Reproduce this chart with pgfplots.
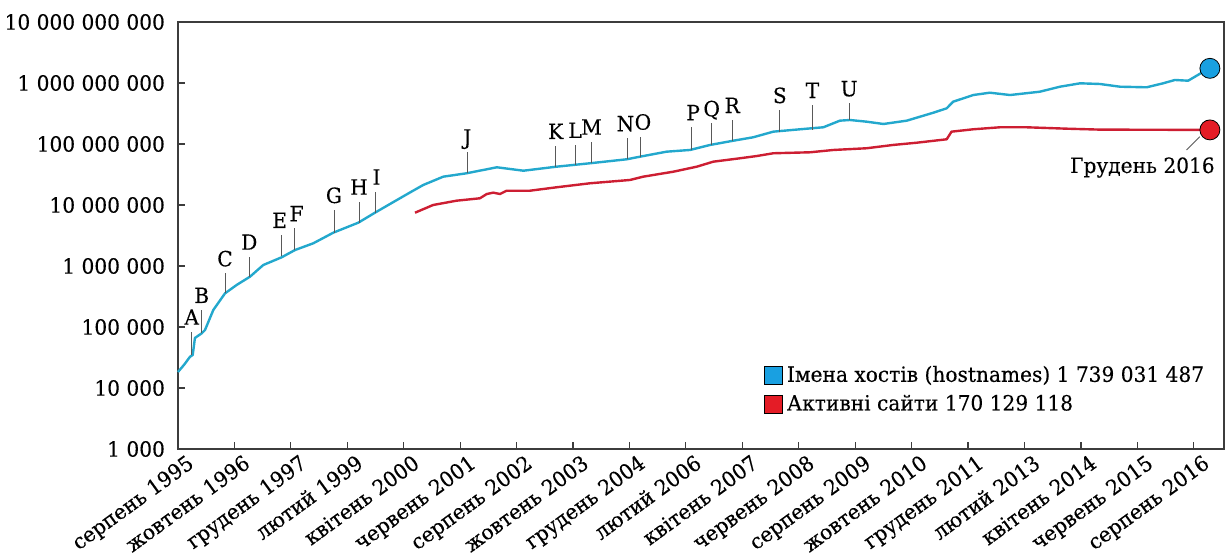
\documentclass[border=0pt]{standalone}
\usepackage{fontspec}
\setmainfont{DejaVu Serif}[FakeStretch=0.96, FakeBold=0.25]
\usepackage{pgfplots}
\pgfplotsset{compat=1.18}
\definecolor{hostline}{RGB}{35,168,205}
\definecolor{hostdot}{RGB}{25,160,225}
\definecolor{siteline}{RGB}{205,30,50}
\definecolor{sitedot}{RGB}{228,28,38}
\definecolor{axgray}{RGB}{60,60,60}
\newcommand{\chfont}{\fontsize{10.5}{12.5}\selectfont}
\begin{document}
\begin{tikzpicture}[x=1pt,y=1pt,
  annot/.style={draw=black!65, line width=0.4pt},
  let/.style={anchor=base, yshift=3.5pt, inner sep=0pt, text=black, font=\chfont}]
\begin{axis}[
  at={(0,0)}, anchor=south west,
  scale only axis, width=523pt, height=213.5pt,
  xmin=0, xmax=259.5, ymode=log, ymin=1e3, ymax=1e10,
  clip=false,
  axis line style={axgray, line width=0.8pt},
  tick style={axgray, line width=0.6pt},
  major tick length=3.5pt,
  tick align=inside,
  tick pos=left,
  xminorticks=false, yminorticks=false,
  ytick={1e3,1e4,1e5,1e6,1e7,1e8,1e9,1e10},
  yticklabels={{1 000},{10 000},{100 000},{1 000 000},{10 000 000},{100 000 000},{1 000 000 000},{10 000 000 000}},
  xtick={0,14,...,252},
  xticklabels={серпень 1995,жовтень 1996,грудень 1997,лютий 1999,квітень 2000,червень 2001,серпень 2002,жовтень 2003,грудень 2004,лютий 2006,квітень 2007,червень 2008,серпень 2009,жовтень 2010,грудень 2011,лютий 2013,квітень 2014,червень 2015,серпень 2016},
  tick label style={font=\chfont, text=black},
  yticklabel style={xshift=-3pt},
  xticklabel style={rotate=36, anchor=north east, inner sep=1pt, xshift=3pt, yshift=-3pt},
  legend style={draw=none, fill=none, at={(0.56,0.205)}, anchor=north west,
    font=\chfont, row sep=1pt, inner sep=0pt},
  legend cell align=left,
  legend image code/.code={\fill[#1] (0pt,-4.5pt) rectangle (9pt,4.5pt);},
]
\addplot[hostline, line width=1.2pt, line join=round, forget plot] coordinates {
(0,18300) (1.5,24000) (3.0,32600) (3.65,34800) (4.2,66100) (5.9,78900) (6.7,89300)
(8.76,190000) (11.66,356000) (14.56,489000) (17.86,668000) (21.16,1038000)
(25.73,1390000) (29.03,1828000) (33.56,2355000) (38.53,3516000) (44.73,5129000)
(48.87,7480000) (52.59,10380000) (57.55,16030000) (60.85,21290000) (65.8,29110000)
(71.6,33110000) (79.1,41500000) (85.7,36480000) (93.9,42460000) (102.2,48300000)
(111.3,56100000) (114.6,61900000) (121.2,74800000) (127.0,79800000) (132.0,96400000)
(137.8,113300000) (142.7,128800000) (147.7,159300000) (154.3,174200000) (160.1,187900000)
(164.2,241200000) (166.7,247300000) (170.8,232200000) (175.0,212800000) (180.8,241200000)
(187.4,325900000) (190.7,384600000) (192.3,493300000) (197.3,635000000) (201.4,693400000)
(206.4,635000000) (213.8,719500000) (218.8,869000000) (223.8,988000000) (228.7,963000000)
(233.7,869000000) (240.3,850000000) (244.4,988000000) (247.3,1120000000) (250.6,1090000000)
(254.4,1531000000) (256,1739031487)
};
\addplot[siteline, line width=1.2pt, line join=round, forget plot] coordinates {
(58.8,7480000) (63.3,10000000) (69.1,11760000) (74.9,12880000) (76.6,15140000)
(78.2,15920000) (79.9,15140000) (81.5,17140000) (87.3,17140000) (93.9,19500000)
(102.2,22690000) (112.1,25700000) (115.4,29110000) (122.9,35150000) (128.7,42460000)
(132.8,51290000) (139.4,58300000) (143.6,63500000) (147.7,70500000) (156.8,73100000)
(162.6,79800000) (170.8,85100000) (177.4,96400000) (183.3,105000000) (190.7,119400000)
(191.9,159300000) (197.3,174200000) (203.9,187900000) (210.5,187900000) (220.5,178200000)
(228.7,172000000) (256,170129118)
};
\addplot[only marks, mark=*, mark size=5pt, mark options={draw=none, fill=hostdot}, forget plot]
  coordinates {(256,1739031487)};
\addplot[only marks, mark=*, mark size=5pt, mark options={draw=none, fill=sitedot}, forget plot]
  coordinates {(256,170129118)};
\addlegendimage{fill=hostdot}
\addlegendentry{Імена хостів (hostnames) 1 739 031 487}
\addlegendimage{fill=sitedot}
\addlegendentry{Активні сайти 170 129 118}
% milestone markers
\draw[annot] (axis cs:3.4,34800) -- (axis cs:3.4,83800) node[let]{A};
\draw[annot] (axis cs:5.88,79800) -- (axis cs:5.88,190000) node[let]{B};
\draw[annot] (axis cs:11.66,356000) -- (axis cs:11.66,758000) node[let]{C};
\draw[annot] (axis cs:17.69,668000) -- (axis cs:17.69,1419000) node[let]{D};
\draw[annot] (axis cs:25.73,1459000) -- (axis cs:25.73,3222000) node[let, xshift=-1pt]{E};
\draw[annot] (axis cs:28.78,1828000) -- (axis cs:28.78,4150000) node[let, xshift=1.3pt]{F};
\draw[annot] (axis cs:38.7,3516000) -- (axis cs:38.7,8280000) node[let]{G};
\draw[annot] (axis cs:44.9,5129000) -- (axis cs:44.9,11330000) node[let]{H};
\draw[annot] (axis cs:48.87,7480000) -- (axis cs:48.87,16520000) node[let, xshift=0.8pt]{I};
\draw[annot] (axis cs:71.77,33110000) -- (axis cs:71.77,74800000) node[let]{J};
\draw[annot] (axis cs:93.7,42460000) -- (axis cs:93.7,92700000) node[let]{K};
\draw[annot] (axis cs:98.5,45290000) -- (axis cs:98.5,96400000) node[let]{L};
\draw[annot] (axis cs:102.6,48300000) -- (axis cs:102.6,109100000) node[let]{M};
\draw[annot] (axis cs:111.5,56100000) -- (axis cs:111.5,123900000) node[let, xshift=-1pt]{N};
\draw[annot] (axis cs:114.6,61900000) -- (axis cs:114.6,131800000) node[let, xshift=1.5pt]{O};
\draw[annot] (axis cs:127.4,79800000) -- (axis cs:127.4,187900000) node[let, xshift=0.8pt]{P};
\draw[annot] (axis cs:132.4,96400000) -- (axis cs:132.4,218300000) node[let]{Q};
\draw[annot] (axis cs:137.5,113300000) -- (axis cs:137.5,247300000) node[let]{R};
\draw[annot] (axis cs:149.3,159300000) -- (axis cs:149.3,360600000) node[let]{S};
\draw[annot] (axis cs:157.4,169800000) -- (axis cs:157.4,435500000) node[let]{T};
\draw[annot] (axis cs:166.5,247300000) -- (axis cs:166.5,464900000) node[let]{U};
\draw[annot] (axis cs:253.5,131800000) -- (axis cs:250.2,79800000);
\node[anchor=base east, inner sep=0pt, font=\chfont] at (axis cs:257.3,33500000) {Грудень 2016};
\end{axis}
\pgfresetboundingbox
\path[use as bounding box] (-89pt,-55.5pt) rectangle (526pt,224.5pt);
\end{tikzpicture}
\end{document}
